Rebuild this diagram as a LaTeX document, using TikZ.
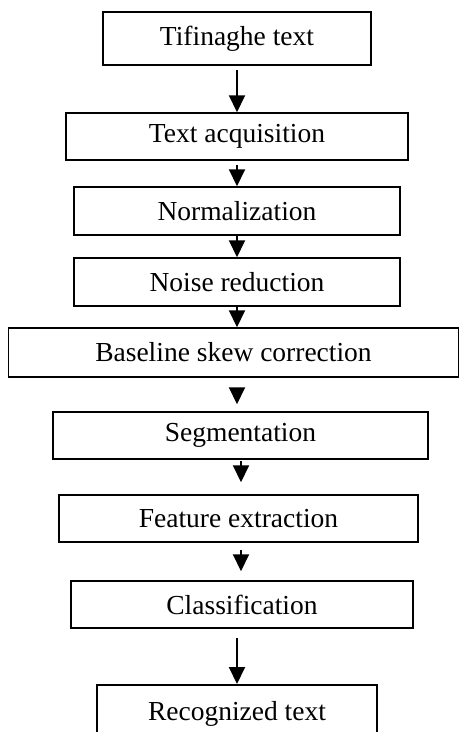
\documentclass[tikz,border=0pt]{standalone}
\usepackage{fontspec}
\setmainfont{Liberation Serif}
\usetikzlibrary{arrows.meta,calc}
\begin{document}
\begin{tikzpicture}[x=1pt,y=1pt,
  box/.style={draw=black,line width=1.5pt,fill=white,inner sep=0pt,
    font=\fontsize{27.5}{31}\selectfont},
  arr/.style={line width=2pt,-{Triangle[width=16pt,length=17pt]}}]
\useasboundingbox (0,0) rectangle (459,-732);
\node[box,minimum width=268pt,minimum height=53pt] (n1) at (237,-38.5) {\raisebox{2pt}{Tifinaghe text}};
\node[box,minimum width=342pt,minimum height=47pt] (n2) at (237,-136.5) {Text acquisition};
\node[box,minimum width=326pt,minimum height=48pt] (n3) at (237,-211) {Normalization};
\node[box,minimum width=326pt,minimum height=48pt] (n4) at (237,-282) {Noise reduction};
\node[box,minimum width=450pt,minimum height=49pt] (n5) at (233.5,-352.5) {Baseline skew correction};
\node[box,minimum width=375pt,minimum height=47pt] (n6) at (240.5,-435.5) {Segmentation};
\node[box,minimum width=359pt,minimum height=47pt] (n7) at (238.5,-518.5) {Feature extraction};
\node[box,minimum width=342pt,minimum height=47pt] (n8) at (242,-604.5) {Classification};
\node[box,minimum width=280pt,minimum height=60pt,anchor=north] (n9) at (237,-684) {\raisebox{8pt}{Recognized text}};
\coordinate (xa) at (237,0);
\coordinate (xb) at (241,0);
\draw[arr,shorten <=4pt] (n1.south -| xa) -- (n2.north -| xa);
\draw[arr,shorten <=4pt] (n2.south -| xa) -- (n3.north -| xa);
\draw[arr] (n3.south -| xa) -- (n4.north -| xa);
\draw[arr] (n4.south -| xa) -- (n5.north -| xa);
\draw[arr,shorten <=10pt,shorten >=7pt] (n5.south -| xa) -- (n6.north -| xa);
\draw[arr,shorten <=1pt,shorten >=12pt] (n6.south -| xb) -- (n7.north -| xb);
\draw[arr,shorten <=7pt,shorten >=9pt] (n7.south -| xb) -- (n8.north -| xb);
\draw[arr,shorten <=9pt] (n8.south -| xa) -- (n9.north -| xa);
\end{tikzpicture}
\end{document}
